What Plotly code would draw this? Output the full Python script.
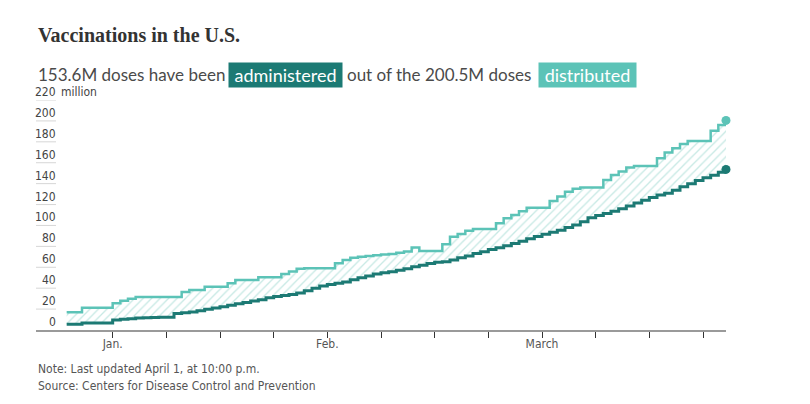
import pandas as pd
import plotly.graph_objects as go

# ---------------- data (millions of doses, daily) ----------------
start_date = "2020-12-29"
administered = [
    5.5, 5.5, 6.7, 6.7, 6.7, 6.7, 9.6, 10.2, 10.8, 11.5,
    11.7, 11.9, 12.1, 12.3, 15.8, 16.5, 17.3, 18.5, 19.8, 21.0,
    22.3, 23.6, 25.0, 26.3, 27.8, 29.0, 30.8, 32.0, 33.0, 34.0,
    35.5, 37.6, 39.9, 42.0, 43.5, 44.7, 46.0, 48.0, 50.0, 51.7,
    53.5, 54.7, 55.6, 57.2, 58.7, 60.5, 62.0, 63.5, 64.7, 65.3,
    67.0, 69.2, 70.8, 73.2, 74.9, 77.0, 78.6, 80.7, 82.8, 85.0,
    87.3, 89.4, 91.6, 93.4, 95.4, 98.0, 100.4, 103.6, 107.3, 109.6,
    111.5, 113.7, 116.0, 118.7, 121.4, 124.2, 126.7, 129.2, 130.8, 133.6,
    137.0, 140.0, 143.0, 145.6, 148.0, 150.8, 153.6,
]
distributed = [
    16.9, 16.9, 21.3, 21.3, 21.3, 21.3, 25.5, 28.0, 30.0, 31.5,
    31.5, 31.5, 31.5, 31.5, 31.5, 36.4, 38.3, 38.3, 41.4, 41.4,
    41.4, 44.7, 47.8, 47.8, 47.8, 50.4, 50.4, 50.4, 53.5, 56.0,
    58.5, 59.0, 59.0, 59.0, 59.0, 63.8, 67.0, 69.2, 70.0, 70.8,
    71.5, 72.2, 72.7, 73.8, 75.0, 78.8, 75.6, 75.6, 75.6, 82.0,
    89.3, 91.9, 95.0, 96.7, 96.7, 96.7, 102.0, 106.9, 110.0, 113.5,
    117.0, 117.0, 117.0, 123.5, 127.6, 132.3, 135.0, 136.3, 136.3, 136.3,
    143.5, 148.3, 151.5, 155.4, 156.9, 156.9, 156.9, 164.3, 169.7, 173.8,
    178.0, 180.9, 180.9, 180.9, 190.7, 196.2, 200.5,
]
dates = pd.date_range(start_date, periods=len(administered), freq="D")

y_ticks = [0, 20, 40, 60, 80, 100, 120, 140, 160, 180, 200, 220]
x_tick_dates = pd.date_range("2021-01-04", "2021-03-22", freq="7D")
month_labels = {"2021-01-04": "Jan.", "2021-02-01": "Feb.", "2021-03-01": "March"}

title_text = "Vaccinations in the U.S."
sub_parts = ["153.6M doses have been", "administered", "out of the 200.5M doses", "distributed"]
note_text = "Note: Last updated April 1, at 10:00 p.m."
source_text = "Source: Centers for Disease Control and Prevention"

# ---------------- styling ----------------
DARK = "#1c7a74"
LIGHT = "#5cc3b7"
HATCH = "#8fd3ca"
NARROW = "Liberation Sans Narrow, DejaVu Sans Condensed, Arial Narrow, sans-serif"
SANS = "Lato, Noto Sans, sans-serif"
SERIF = "Liberation Serif, DejaVu Serif, serif"

W, H = 810, 404
ML, MR, MT, MB = 36, 84, 100, 74
PW = W - ML - MR
PH = H - MT - MB


def px_x(p):
    return (p - ML) / PW


def px_y(p):
    return (H - MB - p) / PH


fig = go.Figure()

fig.add_trace(go.Scatter(
    x=dates, y=administered, mode="lines", line=dict(color=DARK, width=3, shape="hv"),
    hoverinfo="skip", showlegend=False,
))
fig.add_trace(go.Scatter(
    x=dates, y=distributed, mode="lines", line=dict(color=LIGHT, width=2.5, shape="hv"),
    fill="tonexty", fillcolor="rgba(0,0,0,0)",
    fillpattern=dict(shape="/", fgcolor=HATCH, bgcolor="rgba(255,255,255,0)", size=6, solidity=0.22),
    hoverinfo="skip", showlegend=False,
))
fig.add_trace(go.Scatter(
    x=[dates[-1]], y=[administered[-1]], mode="markers",
    marker=dict(color=DARK, size=9), cliponaxis=False, showlegend=False, hoverinfo="skip",
))
fig.add_trace(go.Scatter(
    x=[dates[-1]], y=[distributed[-1]], mode="markers",
    marker=dict(color=LIGHT, size=9), cliponaxis=False, showlegend=False, hoverinfo="skip",
))

tick_text = [month_labels.get(d.strftime("%Y-%m-%d"), "") for d in x_tick_dates]

fig.update_layout(
    width=W, height=H,
    margin=dict(l=ML, r=MR, t=MT, b=MB),
    paper_bgcolor="white", plot_bgcolor="white",
    xaxis=dict(
        type="date", range=["2020-12-25", "2021-03-25"],
        tickvals=list(x_tick_dates), ticktext=tick_text,
        ticks="outside", ticklen=6, tickwidth=1, tickcolor="#333",
        ticklabelstandoff=-4,
        showline=True, linecolor="#9a9a9a", linewidth=2,
        showgrid=False, zeroline=False,
        tickfont=dict(family=NARROW, size=12, color="#555"),
        fixedrange=True,
    ),
    yaxis=dict(
        range=[0, 220], showticklabels=False, showgrid=False, zeroline=False,
        showline=False, fixedrange=True,
    ),
)

shapes = []
annotations = []
for v in y_ticks:
    if v > 0:
        shapes.append(dict(type="line", xref="paper", yref="y", x0=0, x1=px_x(56), y0=v, y1=v,
                           line=dict(color="#d6d6d6", width=1)))
    annotations.append(dict(xref="paper", yref="y", x=px_x(57.5), y=v, text=str(v), showarrow=False,
                            xanchor="right", yanchor="bottom", yshift=-1,
                            font=dict(family=NARROW, size=12, color="#444")))
annotations.append(dict(xref="paper", yref="y", x=px_x(58.5), y=y_ticks[-1], text="million", showarrow=False,
                        xanchor="left", yanchor="bottom", yshift=-1,
                        font=dict(family=NARROW, size=12, color="#444")))

# title
annotations.append(dict(xref="paper", yref="paper", x=px_x(36), y=px_y(35), text=f"<b>{title_text}</b>",
                        showarrow=False, xanchor="left", yanchor="middle",
                        font=dict(family=SERIF, size=20, color="#333")))

# subtitle with highlighted words
sub_y = px_y(74.5)
sub_font = dict(family=SANS, size=17, color="#4a4a4a")
annotations.append(dict(xref="paper", yref="paper", x=px_x(36), y=sub_y, text=sub_parts[0], showarrow=False,
                        xanchor="left", yanchor="middle", font=sub_font))
annotations.append(dict(xref="paper", yref="paper", x=px_x(228), y=sub_y, text=sub_parts[1], showarrow=False,
                        xanchor="left", yanchor="middle", bgcolor=DARK, borderpad=0,
                        width=113, height=24, align="center",
                        font=dict(family=SANS, size=18, color="white")))
annotations.append(dict(xref="paper", yref="paper", x=px_x(345), y=sub_y, text=sub_parts[2], showarrow=False,
                        xanchor="left", yanchor="middle", font=sub_font))
annotations.append(dict(xref="paper", yref="paper", x=px_x(538), y=sub_y, text=sub_parts[3], showarrow=False,
                        xanchor="left", yanchor="middle", bgcolor=LIGHT, borderpad=0,
                        width=97, height=24, align="center",
                        font=dict(family=SANS, size=18, color="white")))

# notes
annotations.append(dict(xref="paper", yref="paper", x=px_x(36), y=px_y(369), text=note_text, showarrow=False,
                        xanchor="left", yanchor="middle", font=dict(family=NARROW, size=12, color="#555")))
annotations.append(dict(xref="paper", yref="paper", x=px_x(36), y=px_y(386), text=source_text, showarrow=False,
                        xanchor="left", yanchor="middle", font=dict(family=NARROW, size=12, color="#555")))

fig.update_layout(shapes=shapes, annotations=annotations)

fig.write_html("out.html", include_plotlyjs=True, config={"displayModeBar": False})
